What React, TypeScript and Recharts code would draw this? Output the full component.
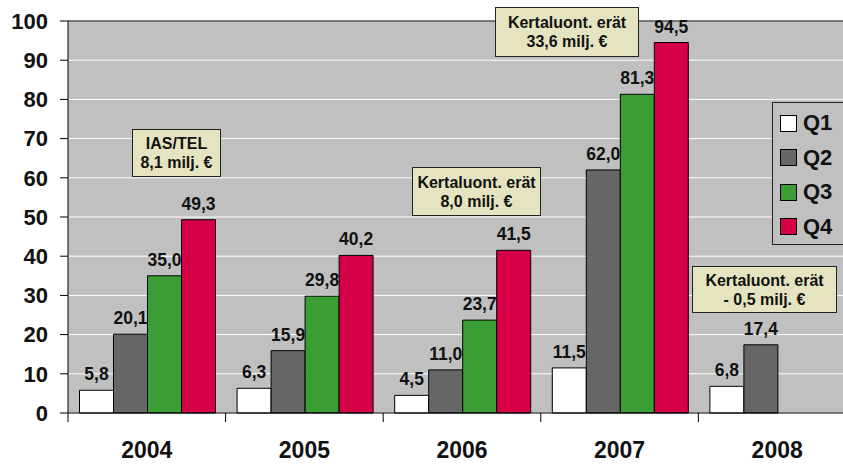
import React from "react";
import { BarChart, Bar, XAxis, YAxis, CartesianGrid, LabelList, Legend, ReferenceLine } from "recharts";

const years = ["2004", "2005", "2006", "2007", "2008"];
const q1 = [5.8, 6.3, 4.5, 11.5, 6.8];
const q2 = [20.1, 15.9, 11.0, 62.0, 17.4];
const q3 = [35.0, 29.8, 23.7, 81.3, null];
const q4 = [49.3, 40.2, 41.5, 94.5, null];
const yTicks = [0, 10, 20, 30, 40, 50, 60, 70, 80, 90, 100];

const notes = [
  ["IAS/TEL", "8,1 milj. €"],
  ["Kertaluont. erät", "33,6 milj. €"],
  ["Kertaluont. erät", "8,0 milj. €"],
  ["Kertaluont. erät", "- 0,5 milj. €"],
];
// where each note box sits on the picture
const notePos = [
  { left: 132, top: 129, width: 89, height: 48 },
  { left: 495, top: 7, width: 144, height: 50 },
  { left: 412, top: 167, width: 129, height: 49 },
  { left: 692, top: 266, width: 145, height: 47 },
];

const series = [
  { key: "Q1", values: q1, color: "#FFFFFF" },
  { key: "Q2", values: q2, color: "#666666" },
  { key: "Q3", values: q3, color: "#3A9E34" },
  { key: "Q4", values: q4, color: "#D60046" },
];

const rows = years.map((year, i) => {
  const row: Record<string, any> = { year };
  for (const s of series) row[s.key] = s.values[i];
  return row;
});

const FONT = 'Arial, "Liberation Sans", sans-serif';
const X_TICK = 9;
const X_MARGIN = 20;

const fmt = (v: any) => (v == null ? "" : Number(v).toFixed(1).replace(".", ","));

function YearTick(props: any) {
  const { x, y, payload } = props;
  const lx = x - (payload.offset ?? 0);
  const axisY = y - X_TICK - X_MARGIN;
  return (
    <g>
      <line x1={lx} x2={lx} y1={axisY} y2={axisY + X_TICK} stroke="#000" />
      <text x={x} y={y} dy="0.71em" textAnchor="middle" fontFamily={FONT} fontWeight="bold" fontSize={23} fill="#111">
        {payload.value}
      </text>
    </g>
  );
}

function LegendBox() {
  return (
    <div
      style={{
        border: "1px solid #222",
        background: "#C0C0C0",
        width: 90,
        padding: "3px 0 0 7px",
        boxSizing: "border-box",
        fontFamily: FONT,
      }}
    >
      {series.map((s) => (
        <div key={s.key} style={{ height: 34.5, display: "flex", alignItems: "center" }}>
          <span style={{ width: 15, height: 15, background: s.color, border: "1px solid #000", display: "inline-block" }} />
          <span style={{ marginLeft: 6, fontSize: 22, fontWeight: "bold", color: "#111" }}>{s.key}</span>
        </div>
      ))}
    </div>
  );
}

export default function App() {
  return (
    <div style={{ position: "fixed", left: 0, top: 0, width: 843, height: 464, overflow: "hidden", background: "#fff" }}>
      <BarChart
        width={870}
        height={464}
        data={rows}
        margin={{ top: 21, right: 14, bottom: 6, left: 0 }}
        barCategoryGap={11.5}
        barGap={0}
      >
        <CartesianGrid vertical={false} stroke="#fff" fill="#C0C0C0" />
        <XAxis
          dataKey="year"
          height={45}
          tickSize={X_TICK}
          tickMargin={X_MARGIN}
          tickLine={false}
          axisLine={{ stroke: "#000" }}
          tick={<YearTick />}
          interval={0}
        />
        <YAxis
          width={68}
          domain={[0, 100]}
          ticks={yTicks}
          interval={0}
          tickSize={8}
          tickMargin={12}
          axisLine={{ stroke: "#000" }}
          tickLine={{ stroke: "#000" }}
          tick={{ fontFamily: FONT, fontWeight: "bold", fontSize: 22, fill: "#111" }}
        />
        <ReferenceLine y={100} stroke="#000" />
        <Legend
          content={<LegendBox />}
          layout="horizontal"
          verticalAlign="middle"
          align="center"
          wrapperStyle={{ position: "absolute", left: 772, top: 102, width: 90 }}
        />
        {series.map((s) => (
          <Bar key={s.key} dataKey={s.key} fill={s.color} stroke="#000" strokeWidth={1} isAnimationActive={false}>
            <LabelList
              dataKey={s.key}
              position="top"
              offset={10}
              formatter={fmt}
              style={{ fontFamily: FONT, fontWeight: "bold", fontSize: 17.5, fill: "#111" }}
            />
          </Bar>
        ))}
      </BarChart>
      {notes.map((lines, i) => (
        <div
          key={i}
          style={{
            position: "absolute",
            ...notePos[i],
            boxSizing: "border-box",
            background: "#E6E4C0",
            border: "1px solid #222",
            display: "flex",
            flexDirection: "column",
            justifyContent: "center",
            alignItems: "center",
            fontFamily: FONT,
            fontWeight: "bold",
            fontSize: 16,
            lineHeight: "19px",
            color: "#111",
          }}
        >
          {lines.map((t, j) => (
            <div key={j}>{t}</div>
          ))}
        </div>
      ))}
    </div>
  );
}
